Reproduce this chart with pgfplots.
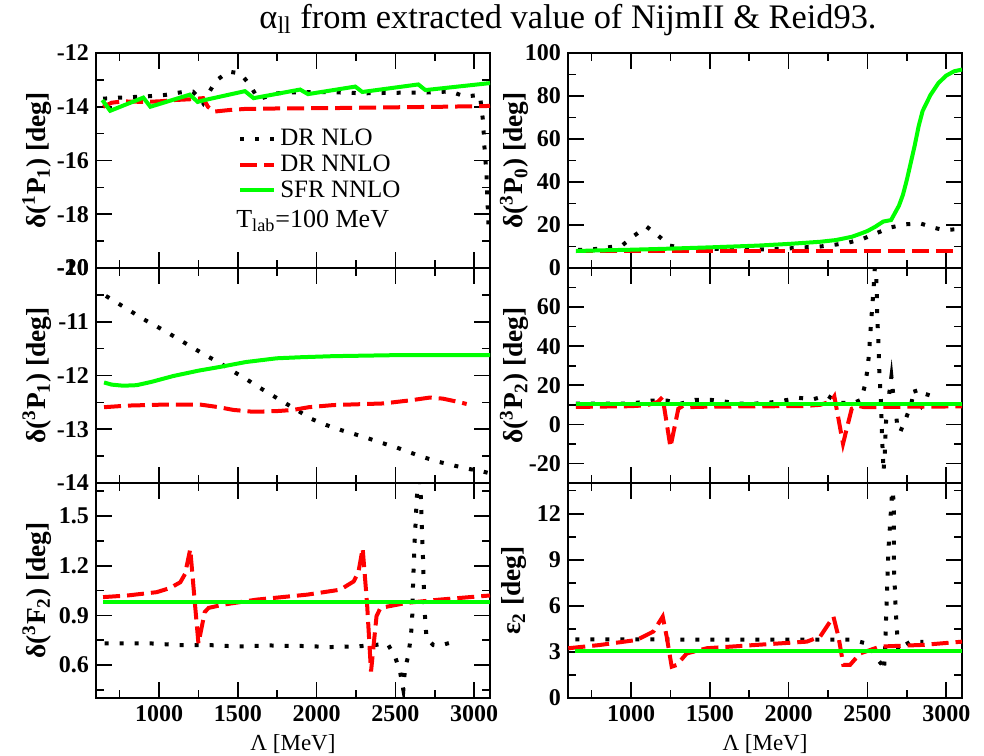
\documentclass[border=0pt]{standalone}
\usepackage{fontspec}
\setmainfont{Liberation Serif}
\usepackage{pgfplots}
\pgfplotsset{compat=1.18}
\pgfplotsset{
  panel/.style={scale only axis, width=197pt, height=107.5pt, anchor=north west,
    xmin=600, xmax=3100, xtick={1000,1500,...,3000}, minor xtick={750,1250,...,2750},
    tick align=inside, major tick length=8pt, minor tick length=4pt,
    axis line style={line width=1pt},
    every tick/.style={line width=0.8pt, black},
    tick label style={font=\fontsize{12}{14}\selectfont\bfseries},
    /pgf/number format/assume math mode=true,
    /pgf/number format/1000 sep={},
    ylabel style={font=\fontsize{13.7}{16}\selectfont\bfseries, anchor=center},
    xlabel style={font=\fontsize{11.5}{13}\selectfont},
  },
  leftp/.style={panel, ylabel style={at={(axis description cs:-0.15,0.5)}}},
  rightp/.style={panel, ylabel style={at={(axis description cs:-0.136,0.5)}}},
  notx/.style={xticklabels={}},
  nlo/.style={black, line width=2pt, dash pattern=on 2pt off 5.5pt},
  nnlo/.style={red, line width=2pt, dash pattern=on 8.5pt off 3.5pt},
  sfr/.style={green, line width=2pt},
}
\begin{document}
\begin{tikzpicture}
\path[use as bounding box] (0,0) rectangle (492pt,-377.5pt);
\node[anchor=base, font=\fontsize{17.2}{20}\selectfont] at (284pt,-14pt) {α\textsubscript{ll} from extracted value of NijmII \& Reid93.};

% top left
\begin{axis}[leftp, notx, at={(48pt,-26.5pt)}, ymin=-20, ymax=-12,
  ytick={-20,-18,-16,-14,-12}, minor ytick={-19,-17,-15,-13},
  ylabel={δ(\textsuperscript{1}P\textsubscript{1}) [deg]},
  legend style={at={(axis description cs:0.345,0.685)}, anchor=north west, draw=none, fill=none,
    font=\fontsize{12.5}{14}\selectfont, row sep=-0.9pt, cells={anchor=west},
    /tikz/every even column/.append style={column sep=1pt}},
  legend image code/.code={\draw[#1] (0pt,0pt) -- (17pt,0pt);}]
\addplot[nlo] coordinates {(645,-13.70)(750,-13.66)(910,-13.62)(1040,-13.56)(1130,-13.47)(1215,-13.44)(1260,-13.70)(1280,-13.87)(1310,-13.54)(1360,-13.04)(1440,-12.69)(1515,-12.76)(1575,-13.17)(1630,-13.72)(1750,-13.50)(1900,-13.45)(2100,-13.46)(2300,-13.50)(2500,-13.48)(2700,-13.47)(2850,-13.43)(2940,-13.62)(3036,-13.56)(3047,-14.1)(3058,-14.64)(3062,-15.23)(3068,-15.8)(3077,-16.4)(3080,-16.97)(3084,-17.5)(3088,-18.08)(3092,-18.68)};
\addlegendentry{DR NLO}
\addplot[nnlo] coordinates {(645,-14.0)(700,-13.85)(770,-13.8)(900,-13.82)(1000,-13.8)(1100,-13.75)(1200,-13.72)(1280,-13.68)(1310,-14.0)(1350,-14.18)(1450,-14.12)(1550,-14.08)(1800,-14.06)(2100,-14.05)(2500,-14.02)(2800,-14.0)(3100,-13.97)};
\addlegendentry{DR NNLO}
\addplot[sfr] coordinates {(640,-13.75)(690,-14.15)(900,-13.66)(945,-14.0)(1195,-13.55)(1245,-13.82)(1290,-13.75)(1545,-13.42)(1600,-13.68)(1895,-13.36)(1945,-13.53)(2245,-13.25)(2290,-13.45)(2645,-13.17)(2690,-13.38)(3100,-13.12)};
\addlegendentry{SFR NNLO}
\node[anchor=base, font=\fontsize{13}{15}\selectfont] at (axis description cs:0.55,0.19) {T\textsubscript{lab}=100 MeV};
\end{axis}

% top right
\begin{axis}[rightp, notx, at={(284pt,-26.5pt)}, ymin=0, ymax=100,
  ytick={0,20,...,100}, minor ytick={10,30,...,90},
  ylabel={δ(\textsuperscript{3}P\textsubscript{0}) [deg]}]
\addplot[nlo] coordinates {(665,8.4)(760,8.7)(855,9.6)(947,10.7)(1019,15)(1099,19.2)(1173,15)(1247,10.4)(1342,9.1)(1500,8.9)(1700,8.7)(1903,8.7)(1998,9.1)(2093,9.6)(2188,9.9)(2283,10.7)(2378,11.8)(2463,13.3)(2554,16.1)(2643,18.8)(2738,20.3)(2833,20.8)(2918,18.8)(2981,17.7)(3066,18.0)(3100,18.2)};
\addplot[nnlo] coordinates {(650,7.7)(3055,7.7)};
\addplot[sfr] coordinates {(650,7.9)(800,8.2)(1000,8.5)(1200,8.9)(1500,9.6)(1800,10.4)(2000,11.2)(2200,12.2)(2300,13.0)(2400,14.5)(2450,15.8)(2500,17.2)(2550,19.2)(2600,21.6)(2650,22.3)(2700,29)(2725,34)(2750,41)(2775,49)(2800,57)(2825,66)(2850,73)(2900,80.5)(2950,86)(3000,89.5)(3050,91.5)(3100,92.3)};
\end{axis}

% middle left
\begin{axis}[leftp, notx, at={(48pt,-134pt)}, ymin=-14, ymax=-10,
  ytick={-14,-13,-12,-11,-10}, minor ytick={-13.5,-12.5,-11.5,-10.5},
  ylabel={δ(\textsuperscript{3}P\textsubscript{1}) [deg]}]
\addplot[nlo] coordinates {(663,-10.52)(780,-10.73)(900,-10.95)(1030,-11.16)(1150,-11.37)(1270,-11.58)(1398,-11.79)(1480,-11.94)(1560,-12.08)(1640,-12.23)(1725,-12.38)(1810,-12.53)(1890,-12.67)(1969,-12.81)(2060,-12.92)(2148,-13.01)(2240,-13.09)(2328,-13.17)(2420,-13.26)(2508,-13.34)(2600,-13.44)(2688,-13.53)(2780,-13.61)(2878,-13.68)(2970,-13.74)(3058,-13.79)(3100,-13.82)};
\addplot[nnlo] coordinates {(651,-12.59)(800,-12.56)(1048,-12.54)(1260,-12.54)(1380,-12.59)(1471,-12.64)(1580,-12.67)(1662,-12.67)(1760,-12.66)(1852,-12.64)(1950,-12.59)(2106,-12.55)(2423,-12.52)(2600,-12.46)(2719,-12.41)(2800,-12.43)(2880,-12.48)(2952,-12.53)};
\addplot[sfr] coordinates {(651,-12.13)(700,-12.17)(773,-12.19)(858,-12.18)(950,-12.12)(1090,-12.01)(1250,-11.91)(1387,-11.84)(1550,-11.75)(1746,-11.68)(1900,-11.66)(2106,-11.64)(2529,-11.62)(3100,-11.62)};
\end{axis}

% middle right
\begin{axis}[rightp, notx, at={(284pt,-134pt)}, ymin=-30, ymax=80,
  ytick={-20,0,20,40,60}, minor ytick={-30,-10,10,30,50,70},
  ylabel={δ(\textsuperscript{3}P\textsubscript{2}) [deg]}]
\addplot[nlo] coordinates {(650,10.6)(760,10.6)(855,10.6)(947,10.6)(1042,11.1)(1135,12.2)(1226,12.2)(1315,10.6)(1406,12.6)(1501,12.6)(1592,11.7)(1687,10.6)(1782,10.6)(1876,11.1)(1970,12.2)(2062,13.6)(2153,12.8)(2245,14.8)(2315,11.1)(2410,10.9)(2460,12.6)(2485,20.3)(2500,28)(2510,36)(2516,44)(2523,52)(2530,60)(2537,67)(2543,75)(2550,84)(2556,75)(2558,71)(2560,63)(2562,55)(2567,47)(2571,39)(2573,31)(2578,23)(2583,15.6)(2588,8)(2590,0)(2593,-8)(2598,-15)(2602,-24)(2610,-15)(2614,-6.5)(2618,1.5)(2628,9)(2640,17)(2652,24.5)(2662,16.5)(2679,8.8)(2687,0.7)(2708,-3.9)(2728,0)(2746,3.4)(2778,10.6)(2799,18.2)(2820,13)(2844,9.2)(2869,11.7)(2897,19)};
\addplot[nnlo] coordinates {(650,8.9)(800,9.1)(1000,9.3)(1100,9.8)(1170,11.5)(1200,14)(1250,-11.6)(1300,8)(1330,9.5)(1360,8.8)(1500,9.1)(1800,9.2)(2100,9.4)(2200,10)(2270,11.8)(2290,14.3)(2345,-9.9)(2400,8)(2440,9.5)(2480,8.8)(2700,9)(3100,9.2)};
\addplot[sfr] coordinates {(650,10.3)(3100,10.3)};
\end{axis}

% bottom left
\begin{axis}[leftp, at={(48pt,-241.5pt)}, ymin=0.4, ymax=1.7,
  ytick={0.6,0.9,1.2,1.5}, yticklabels={0.6,0.9,1.2,1.5}, minor ytick={0.45,0.75,1.05,1.35,1.65},
  ylabel={δ(\textsuperscript{3}F\textsubscript{2}) [deg]}, xlabel={Λ [MeV]}]
\addplot[nlo] coordinates {(655,0.73)(750,0.73)(850,0.73)(950,0.73)(1040,0.725)(1130,0.72)(1230,0.72)(1320,0.72)(1420,0.715)(1515,0.712)(1610,0.715)(1700,0.718)(1800,0.715)(1890,0.715)(1990,0.712)(2080,0.708)(2170,0.71)(2260,0.712)(2360,0.72)(2450,0.728)(2497,0.652)(2529,0.56)(2550,0.45)(2560,0.57)(2582,0.66)(2596,0.76)(2605,0.85)(2608,0.94)(2610,1.03)(2613,1.13)(2617,1.22)(2620,1.32)(2625,1.40)(2635,1.6)(2650,1.8)(2662,1.6)(2668,1.41)(2672,1.32)(2676,1.22)(2678,1.13)(2681,1.04)(2685,0.94)(2690,0.85)(2698,0.76)(2740,0.72)(2776,0.715)(2850,0.735)};
\addplot[nnlo] coordinates {(645,1.01)(800,1.02)(985,1.04)(1070,1.065)(1135,1.10)(1165,1.15)(1198,1.30)(1225,1.0)(1250,0.73)(1290,0.92)(1315,0.945)(1410,0.965)(1620,0.995)(1940,1.025)(2150,1.055)(2235,1.105)(2265,1.16)(2292,1.305)(2320,0.97)(2345,0.56)(2380,0.895)(2405,0.945)(2570,0.975)(2780,0.995)(3100,1.02)};
\addplot[sfr] coordinates {(645,0.982)(3100,0.982)};
\end{axis}

% bottom right
\begin{axis}[rightp, at={(284pt,-241.5pt)}, ymin=0, ymax=14,
  ytick={0,3,...,12}, minor ytick={1.5,4.5,7.5,10.5,13.5},
  ylabel={ε\textsubscript{2} [deg]}, xlabel={Λ [MeV]}]
\addplot[nlo] coordinates {(647,3.82)(1000,3.82)(1500,3.8)(2000,3.8)(2400,3.8)(2455,3.65)(2516,3.5)(2548,2.7)(2590,2.2)(2605,1.8)(2611,3.1)(2615,4.1)(2618,5.2)(2622,6.2)(2625,7.1)(2628,8.1)(2632,9.2)(2636,10.2)(2643,11.2)(2649,12.2)(2655,13.2)(2662,13.5)(2667,12.2)(2668,11.2)(2668,10.1)(2668,9.1)(2669,8.1)(2674,7.1)(2678,6.1)(2683,5.1)(2689,4.1)(2695,3.1)(2730,3.4)(2773,3.67)(2855,3.65)};
\addplot[nnlo] coordinates {(602,3.24)(800,3.45)(1036,3.78)(1142,4.33)(1201,5.3)(1226,4.0)(1258,2.04)(1290,2.15)(1353,2.9)(1480,3.24)(1798,3.46)(2115,3.67)(2200,4.0)(2284,5.3)(2316,4.0)(2347,2.15)(2389,2.15)(2453,2.9)(2580,3.35)(2855,3.46)(3100,3.67)};
\addplot[sfr] coordinates {(645,3.07)(3100,3.07)};
\end{axis}
\end{tikzpicture}
\end{document}
